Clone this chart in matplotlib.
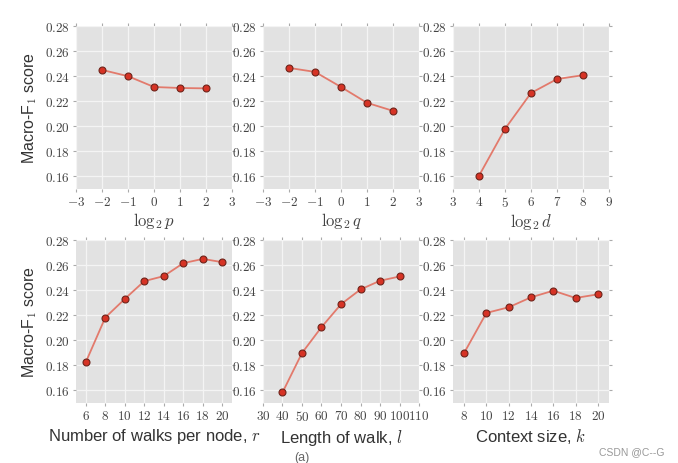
import matplotlib
matplotlib.use('Agg')
import matplotlib.pyplot as plt
from matplotlib.ticker import FuncFormatter

# parameter sensitivity values
log2_p = [-2, -1, 0, 1, 2]
f1_p = [0.2448, 0.2398, 0.2312, 0.2304, 0.2301]

log2_q = [-2, -1, 0, 1, 2]
f1_q = [0.2464, 0.2432, 0.2312, 0.2186, 0.2122]

log2_d = [4, 5, 6, 7, 8]
f1_d = [0.1605, 0.1978, 0.2264, 0.2375, 0.2406]

walks_r = [6, 8, 10, 12, 14, 16, 18, 20]
f1_r = [0.1824, 0.2180, 0.2328, 0.2470, 0.2510, 0.2613, 0.2647, 0.2621]

length_l = [40, 50, 60, 70, 80, 90, 100]
f1_l = [0.1584, 0.1898, 0.2104, 0.2286, 0.2404, 0.2473, 0.2507]

context_k = [8, 10, 12, 14, 16, 18, 20]
f1_k = [0.1898, 0.2217, 0.2262, 0.2341, 0.2394, 0.2336, 0.2365]

y_ticks = [0.16, 0.18, 0.20, 0.22, 0.24, 0.26, 0.28]

panels = [
    (log2_p, f1_p, r'$\log_2 p$', (-3, 3), list(range(-3, 4))),
    (log2_q, f1_q, r'$\log_2 q$', (-3, 3), list(range(-3, 4))),
    (log2_d, f1_d, r'$\log_2 d$', (3, 9), list(range(3, 10))),
    (walks_r, f1_r, 'Number of walks per node, $r$', (5, 21), list(range(6, 21, 2))),
    (length_l, f1_l, 'Length of walk, $l$', (30, 110), list(range(30, 111, 10))),
    (context_k, f1_k, 'Context size, $k$', (7, 21), list(range(8, 21, 2))),
]

plt.rcParams['mathtext.fontset'] = 'cm'
plt.rcParams['font.family'] = ['Liberation Sans', 'DejaVu Sans']

fig = plt.figure(figsize=(6.78, 4.64), dpi=100)

lefts = [0.1121, 0.3879, 0.6681]
bottoms = [0.5905, 0.1293]
w, h = 0.2301, 0.352

bg = '#e2e2e2'
tick_col = '#aaaaaa'
lab_col = '#444444'

for i, (xs, ys, xlabel, xlim, xticks) in enumerate(panels):
    row, col = divmod(i, 3)
    ax = fig.add_axes([lefts[col], bottoms[row], w, h])
    ax.set_facecolor(bg)
    for s in ax.spines.values():
        s.set_visible(False)
    ax.grid(True, color='#f4f4f4', linewidth=0.9)
    ax.set_axisbelow(True)
    ax.plot(xs, ys, '-', color='#e27a6c', linewidth=1.3, zorder=2)
    ax.plot(xs, ys, 'o', color='#d63325', markeredgecolor='#6e241b',
            markeredgewidth=0.8, markersize=5, zorder=3)
    ax.set_xlim(*xlim)
    ax.set_ylim(0.15, 0.28)
    ax.set_xticks(xticks)
    ax.set_yticks(y_ticks)
    ax.xaxis.set_major_formatter(FuncFormatter(lambda v, pos: '$%d$' % v))
    ax.yaxis.set_major_formatter(FuncFormatter(lambda v, pos: '$%.2f$' % v))
    ax.tick_params(direction='out', length=2.5, width=0.8, color=tick_col,
                   labelcolor=lab_col, labelsize=9.5, pad=2,
                   top=True, right=True)
    if row == 0:
        ax.set_xlabel(xlabel, fontsize=12, color=lab_col, labelpad=1)
    else:
        ax.set_xlabel(xlabel, fontsize=12, color='#333333', labelpad=3)
    if col == 0:
        ax.set_ylabel(r'Macro-F$_{\mathsf{1}}$ score', fontsize=11.5,
                      color='#333333', labelpad=4)

fig.text(0.445, 0.014, '(a)', fontsize=9, color='#666666', ha='center', va='center')
fig.text(0.98, 0.026, 'CSDN @C--G', fontsize=7.5, color='#999999', ha='right', va='center')

fig.savefig('out.png', dpi=100, facecolor='white')
